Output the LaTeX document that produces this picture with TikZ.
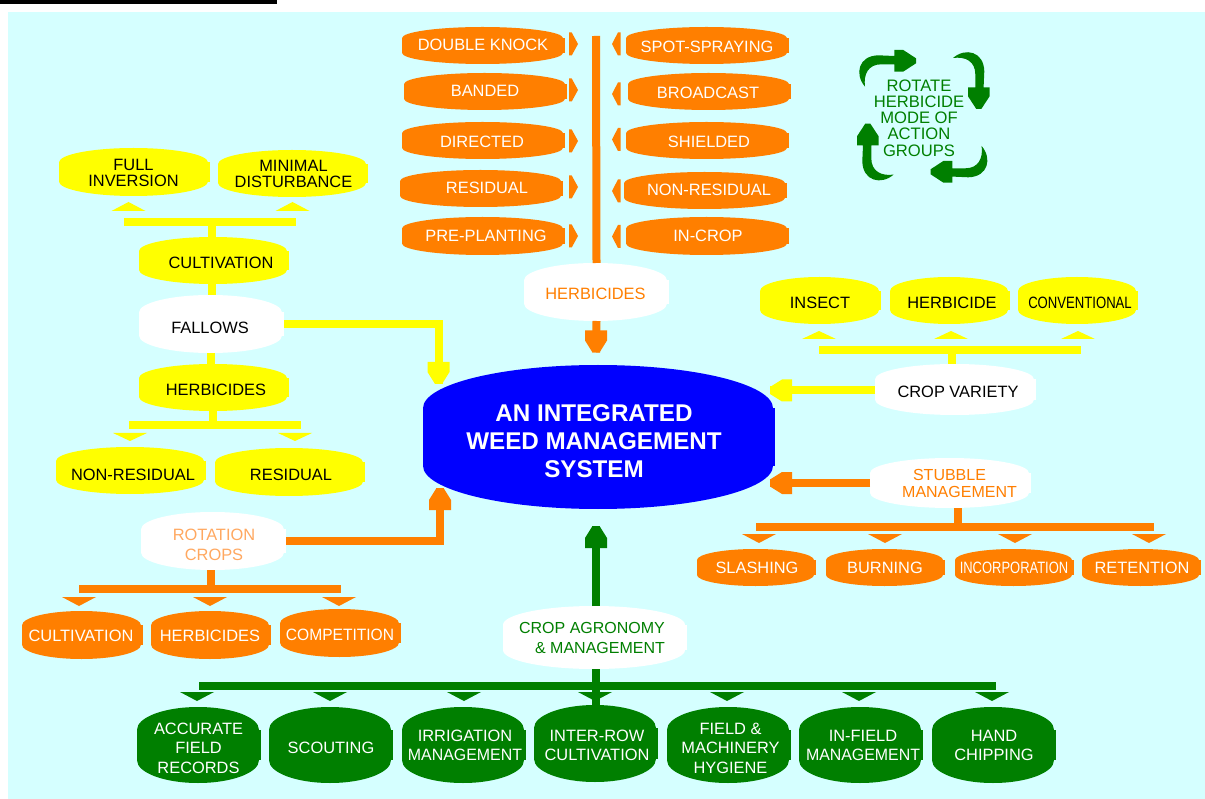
\documentclass[tikz,border=0pt]{standalone}
\usepackage{fontspec}
\usepackage{graphicx}
\setmainfont{Liberation Sans}
\definecolor{bgc}{HTML}{D5FFFF}
\definecolor{org}{HTML}{FF7F00}
\definecolor{yel}{HTML}{FFFF00}
\definecolor{grn}{HTML}{007F00}
\definecolor{blu}{HTML}{0000FF}
\definecolor{lorg}{HTML}{FFA860}
\newcommand\blob[6]{%
 \pgfmathsetmacro\bcx{(#2+#3)/2}\pgfmathsetmacro\bcy{(#4+#5)/2}%
 \pgfmathsetmacro\bw{#3-#2}\pgfmathsetmacro\bh{#5-#4}%
 \pgfmathsetmacro\bs{0.2*\bh}\pgfmathsetmacro\bry{\bh/2-\bs}%
 \pgfmathsetmacro\brx{(\bw-2)/2}\pgfmathsetmacro\bex{\bcx-1}%
 \fill[#6] (\bex-\brx,\bcy-\bs) arc[start angle=180,end angle=0,x radius=\brx pt,y radius=\bry pt]
   -- (\bex+\brx,\bcy+\bs) arc[start angle=0,end angle=-180,x radius=\brx pt,y radius=\bry pt] -- cycle;
 \fill[#6] (#2,\bcy-\bs) rectangle (#3,\bcy+\bs);
 \node[boxanchor,minimum width=\bw pt,minimum height=\bh pt] (#1) at (\bcx,\bcy) {};}
\newcommand\vtri[4]{\fill[#1] (#2-17,#3) -- (#2+17,#3) -- (#2,#4) -- cycle;}
\newcommand\htri[4]{\fill[#1] (#2,#4-11.5) -- ({#2+(#3-#2)*0.3},#4-11.5) -- (#3,#4) -- ({#2+(#3-#2)*0.3},#4+11.5) -- (#2,#4+11.5) -- cycle;}
\newcommand\bighead[3]{\begin{scope}[shift={(#1)},rotate=#2]
 \fill[#3] (-22,-11) -- (-12,-11) -- (0,-3.5) -- (0,3.5) -- (-12,11) -- (-22,11) -- cycle;\end{scope}}
\newcommand\cres[1]{\begin{scope}[shift={(923.3,116.3)},rotate=#1]
 \fill[grn] (-58.3,-29.7) .. controls (-69,-42) and (-65,-60.5) .. (-45,-61) -- (-29,-60.3) -- (-29,-66.3) -- (-20,-66.3) -- (-7.3,-58) -- (-7.3,-53) -- (-20,-44.7) -- (-29,-44.7) -- (-29,-52) -- (-42,-52) .. controls (-55,-52) and (-60,-42) .. cycle;\end{scope}}
\newcommand\cx[2]{\scalebox{#1}[1]{#2}}
\tikzset{
 x=1pt,y=-1pt,
 boxanchor/.style={rectangle,inner sep=0pt,outer sep=0pt,draw=none,fill=none},
 lbl/.style={inner sep=0pt,align=center,font=\fontsize{16.4}{18.5}\selectfont},
 onorg/.style={lbl,text=white},
 ongrn/.style={lbl,text=white},
 onyel/.style={lbl,text=black},
 conn/.style={line width=8pt,draw=#1,line cap=butt,line join=miter},
}
\begin{document}
\begin{tikzpicture}
\useasboundingbox (0,0) rectangle (1205,799);
\fill[white] (0,0) rectangle (1205,799);
\fill[black] (0,0) rectangle (277,4);
\fill[bgc] (8,12) rectangle (1205,799);

% central
\blob{sys}{423}{775}{365}{509}{blu}
\node[lbl,text=white,font=\fontsize{24.2}{28.2}\bfseries\selectfont] (sys-t) at (594,441) {AN INTEGRATED\\WEED MANAGEMENT\\SYSTEM};

% herbicides
\blob{hb}{524}{669}{263}{321}{white}
\node[lbl,text=org] (hb-t) at (595.5,293.5) {HERBICIDES};
\coordinate (trunk) at (596,36);
\coordinate (hbtip) at (596,352.5);
\draw[conn=org] (trunk) -- (hb.north);
\draw[conn=org] (hb.south) -- (hbtip);
\bighead{hbtip}{-90}{org}
\blob{dk}{402}{565}{27}{64}{org}   \node[onorg] (dk-t) at (483,44.5) {DOUBLE KNOCK};
\blob{ban}{404}{567}{73}{110}{org} \node[onorg] (ban-t) at (485,90.5) {BANDED};
\blob{dir}{402}{565}{122}{159}{org}\node[onorg] (dir-t) at (482,141.5) {DIRECTED};
\blob{res}{400}{563}{170}{207}{org}\node[onorg] (res-t) at (487,187.5) {RESIDUAL};
\blob{pre}{402}{565}{217}{255}{org}\node[onorg] (pre-t) at (486,235.5) {PRE-PLANTING};
\blob{spot}{626}{789}{27}{64}{org} \node[onorg] (spot-t) at (707,46.5) {SPOT-SPRAYING};
\blob{bro}{628}{791}{73}{110}{org} \node[onorg] (bro-t) at (708,92.5) {BROADCAST};
\blob{shi}{626}{789}{122}{159}{org}\node[onorg] (shi-t) at (709,141.5) {SHIELDED};
\blob{nres}{624}{787}{172}{209}{org}\node[onorg] (nres-t) at (709,189.5) {NON-RESIDUAL};
\blob{inc}{626}{789}{217}{255}{org}\node[onorg] (inc-t) at (708,235.5) {IN-CROP};
\htri{org}{569}{578}{44}\htri{org}{569}{578}{90}\htri{org}{569}{578}{141}\htri{org}{569}{578}{187}\htri{org}{569}{578}{236}
\htri{org}{620.5}{612}{44}\htri{org}{620.5}{612}{94}\htri{org}{620.5}{612}{139.5}\htri{org}{620.5}{612}{191}\htri{org}{620.5}{612}{236.5}

% rotate
\cres{0}\cres{-90}\cres{-180}\cres{-270}
\node[lbl,text=grn,font=\fontsize{16.6}{16.2}\selectfont] (rot) at (919,118) {ROTATE\\HERBICIDE\\MODE OF\\ACTION\\GROUPS};

% left yellow
\blob{fi}{59}{210}{148}{196}{yel}  \node[lbl,onyel,font=\fontsize{16.4}{15.5}\selectfont] (fi-t) at (133.5,173) {FULL\\INVERSION};
\blob{md}{218}{368}{150}{197}{yel} \node[lbl,onyel,font=\fontsize{16.4}{16.5}\selectfont] (md-t) at (293.5,174) {MINIMAL\\DISTURBANCE};
\blob{cu}{139}{289}{237}{284}{yel} \node[onyel] (cu-t) at (221,262.5) {CULTIVATION};
\blob{fa}{139}{284}{295}{353}{white}\node[onyel] (fa-t) at (210,327.5) {FALLOWS};
\blob{hy}{139}{289}{364}{411}{yel} \node[onyel] (hy-t) at (216,389.5) {HERBICIDES};
\blob{nr}{56}{206}{447}{494}{yel}  \node[onyel] (nr-t) at (133,474.5) {NON-RESIDUAL};
\blob{re}{215}{365}{448}{496}{yel} \node[onyel] (re-t) at (291,474.5) {RESIDUAL};
\coordinate (b1l) at (124,222);\coordinate (b1r) at (296,222);\coordinate (b1m) at (212,222);
\draw[conn=yel] (b1l) -- (b1r);
\draw[conn=yel] (b1m) -- (cu.north -| b1m);
\draw[conn=yel] (cu.south -| b1m) -- (fa.north -| b1m);
\coordinate (fam) at (211,353);
\draw[conn=yel] (fam) -- (hy.north -| fam);
\coordinate (b2l) at (129,425);\coordinate (b2r) at (301,425);\coordinate (b2m) at (213,425);
\draw[conn=yel] (b2l) -- (b2r);
\draw[conn=yel] (hy.south -| b2m) -- (b2m);
\vtri{yel}{128.5}{211}{202}\vtri{yel}{292.5}{211}{202}
\vtri{yel}{130}{433}{441}\vtri{yel}{295}{433}{441}
\coordinate (fatip) at (438.5,384);
\draw[conn=yel] (fa.east) -| (fatip);
\bighead{fatip}{-90}{yel}

% rotation crops
\blob{rc}{141}{286}{512}{570}{white}\node[lbl,text=lorg,font=\fontsize{16.4}{20}\selectfont] (rc-t) at (214,545) {ROTATION\\CROPS};
\blob{cc}{22}{143}{611}{659}{org}  \node[onorg] (cc-t) at (81,635.5) {CULTIVATION};
\blob{ch}{151}{271}{611}{659}{org} \node[onorg] (ch-t) at (210,635.5) {HERBICIDES};
\blob{cp}{280}{401}{609}{657}{org} \node[onorg] (cp-t) at (340,634.5) {\cx{0.95}{COMPETITION}};
\coordinate (b3l) at (79,589);\coordinate (b3r) at (341,589);\coordinate (b3m) at (211,589);
\draw[conn=org] (b3l) -- (b3r);
\draw[conn=org] (rc.south -| b3m) -- (b3m);
\vtri{org}{79}{597}{606}\vtri{org}{210}{597}{606}\vtri{org}{339}{597}{606}
\coordinate (rctip) at (440,488);
\draw[conn=org] (rc.east) -| (rctip);
\bighead{rctip}{90}{org}

% crop agronomy
\blob{ca}{503}{687}{606}{669}{white}
\node[lbl,text=grn,font=\fontsize{16}{20}\selectfont] (ca-t) at (592,637.5) {CROP AGRONOMY\\\hspace*{16pt}\& MANAGEMENT};
\blob{g1}{137}{261}{707}{783}{grn} \node[ongrn,font=\fontsize{16.4}{19.5}\selectfont] (g1-t) at (198.5,748) {ACCURATE\\FIELD\\RECORDS};
\blob{g2}{269}{393}{707}{783}{grn} \node[ongrn] (g2-t) at (331,747.5) {SCOUTING};
\blob{g3}{402}{526}{707}{783}{grn} \node[ongrn,font=\fontsize{16.4}{19}\selectfont] (g3-t) at (465,745) {IRRIGATION\\\cx{0.97}{MANAGEMENT}};
\blob{g4}{534}{658}{705}{782}{grn} \node[ongrn,font=\fontsize{16.4}{19}\selectfont] (g4-t) at (597,745.5) {INTER-ROW\\CULTIVATION};
\blob{g5}{667}{791}{707}{783}{grn} \node[ongrn,font=\fontsize{16.4}{19.5}\selectfont] (g5-t) at (730.5,748) {FIELD \&\\MACHINERY\\HYGIENE};
\blob{g6}{799}{923}{707}{783}{grn} \node[ongrn,font=\fontsize{16.4}{19}\selectfont] (g6-t) at (863,745.5) {IN-FIELD\\\cx{0.97}{MANAGEMENT}};
\blob{g7}{932}{1056}{707}{783}{grn}\node[ongrn,font=\fontsize{16.4}{19}\selectfont] (g7-t) at (994,745.5) {HAND\\CHIPPING};
\coordinate (b4l) at (199,686);\coordinate (b4r) at (996,686);\coordinate (b4m) at (596,686);
\coordinate (catip) at (596,526);
\draw[conn=grn] (b4l) -- (b4r);
\draw[conn=grn] (ca.south -| b4m) -- (g4.north -| b4m);
\vtri{grn}{197}{692}{701}\vtri{grn}{330}{692}{701}\vtri{grn}{464}{692}{701}\vtri{grn}{595}{692}{701}\vtri{grn}{727}{692}{701}\vtri{grn}{859}{692}{701}\vtri{grn}{992}{692}{701}
\draw[conn=grn] (ca.north -| catip) -- (catip);
\bighead{catip}{90}{grn}

% crop variety
\blob{cv}{875}{1036}{364}{415}{white}\node[onyel] (cv-t) at (958,391.5) {CROP VARIETY};
\blob{v1}{760}{881}{277}{324}{yel} \node[onyel] (v1-t) at (820,302.5) {INSECT};
\blob{v2}{890}{1010}{277}{324}{yel}\node[onyel] (v2-t) at (952,302.5) {HERBICIDE};
\blob{v3}{1018}{1138}{277}{324}{yel}\node[onyel] (v3-t) at (1080,302.5) {\cx{0.8}{CONVENTIONAL}};
\coordinate (b5l) at (819,350);\coordinate (b5r) at (1081,350);\coordinate (b5m) at (952,350);
\draw[conn=yel] (b5l) -- (b5r);
\draw[conn=yel] (b5m) -- (cv.north -| b5m);
\vtri{yel}{819}{339}{331}\vtri{yel}{951}{339}{331}\vtri{yel}{1078}{339}{331}
\coordinate (cvtip) at (770,390.5);
\draw[conn=yel] (cv.west |- cvtip) -- (cvtip);
\bighead{cvtip}{180}{yel}

% stubble
\blob{st}{870}{1031}{458}{508}{white}
\node[lbl,text=org,font=\fontsize{16}{17}\selectfont] (st-t) at (959.5,483) {STUBBLE\hspace*{20pt}\\MANAGEMENT};
\blob{s1}{697}{816}{549}{586}{org} \node[onorg] (s1-t) at (757,567.5) {SLASHING};
\blob{s2}{826}{945}{549}{586}{org} \node[onorg] (s2-t) at (885,567.5) {BURNING};
\blob{s3}{955}{1074}{549}{586}{org}\node[onorg] (s3-t) at (1014,567.5) {\cx{0.79}{INCORPORATION}};
\blob{s4}{1082}{1201}{549}{586}{org}\node[onorg] (s4-t) at (1142,567.5) {RETENTION};
\coordinate (b6l) at (756,527);\coordinate (b6r) at (1154,527);\coordinate (b6m) at (958,527);
\draw[conn=org] (b6l) -- (b6r);
\draw[conn=org] (st.south -| b6m) -- (b6m);
\vtri{org}{759}{534}{543}\vtri{org}{885}{534}{543}\vtri{org}{1015}{534}{543}\vtri{org}{1149}{534}{543}
\coordinate (sttip) at (770,483);
\draw[conn=org] (st.west |- sttip) -- (sttip);
\bighead{sttip}{180}{org}
\end{tikzpicture}
\end{document}
